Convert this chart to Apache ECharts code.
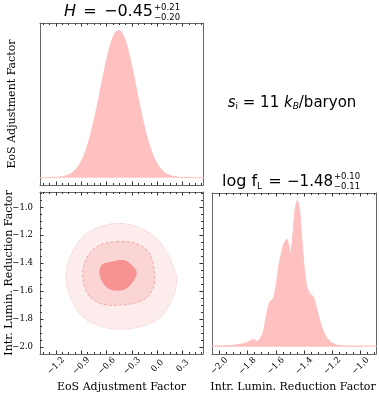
<!DOCTYPE html>
<html><head><meta charset="utf-8">
<script src="https://cdn.jsdelivr.net/npm/echarts@6/dist/echarts.min.js"></script>
<style>html,body{margin:0;padding:0;background:#fff}#c{width:379px;height:397px}</style>
</head><body><div id="c"></div>
<script>
// ---------- data ----------
const hGrid = [-1.40,-1.35,-1.30,-1.25,-1.20,-1.15,-1.10,-1.05,-1.00,-0.95,-0.90,-0.85,-0.80,-0.75,-0.70,-0.65,-0.60,-0.55,-0.50,-0.45,-0.40,-0.35,-0.30,-0.25,-0.20,-0.15,-0.10,-0.05,0.00,0.05,0.10,0.15,0.20,0.25,0.30,0.35,0.40,0.45,0.50,0.55];
const hDensity = [0.000,0.000,0.000,0.001,0.002,0.005,0.010,0.019,0.037,0.066,0.112,0.178,0.270,0.386,0.520,0.664,0.800,0.912,0.982,1.000,0.960,0.872,0.748,0.607,0.465,0.336,0.230,0.149,0.091,0.052,0.028,0.015,0.007,0.003,0.001,0.001,0.000,0.000,0.000,0.000];
const fLGrid = [-2.06,-1.95,-1.90,-1.85,-1.80,-1.77,-1.755,-1.735,-1.715,-1.70,-1.687,-1.675,-1.663,-1.65,-1.64,-1.616,-1.604,-1.592,-1.581,-1.569,-1.557,-1.545,-1.534,-1.522,-1.510,-1.494,-1.479,-1.463,-1.447,-1.432,-1.416,-1.399,-1.381,-1.357,-1.333,-1.310,-1.286,-1.263,-1.239,-1.204,-1.168,-1.12,-1.00,-0.88];
const fLDensity = [0.004,0.006,0.010,0.016,0.030,0.046,0.050,0.036,0.050,0.075,0.105,0.170,0.230,0.285,0.310,0.330,0.385,0.460,0.540,0.600,0.650,0.700,0.720,0.735,0.700,0.630,0.765,0.940,1.000,0.940,0.740,0.540,0.410,0.360,0.340,0.260,0.170,0.105,0.060,0.027,0.011,0.005,0.004,0.004];
// 2D credible contours (H, log fL)
const outerX = [-0.560,-0.363,-0.200,-0.007,0.100,0.190,0.230,0.171,-0.007,-0.442,-0.837,-1.014,-1.082,-1.014,-0.837];
const outerY = [-1.120,-1.120,-1.150,-1.223,-1.310,-1.426,-1.522,-1.665,-1.808,-1.875,-1.808,-1.665,-1.498,-1.330,-1.187];
const middleX = [-0.481,-0.284,-0.106,-0.039,-0.047,-0.166,-0.442,-0.679,-0.829,-0.884,-0.817,-0.679];
const middleY = [-1.247,-1.254,-1.318,-1.450,-1.570,-1.665,-1.701,-1.689,-1.617,-1.473,-1.342,-1.270];
const innerX = [-0.600,-0.403,-0.303,-0.244,-0.303,-0.403,-0.560,-0.640,-0.687,-0.659];
const innerY = [-1.397,-1.378,-1.414,-1.469,-1.545,-1.593,-1.589,-1.545,-1.469,-1.414];
// ticks
const hTicks = [-1.2,-0.9,-0.6,-0.3,0.0,0.3];
const hMinorTicks = [-1.35,-1.275,-1.125,-1.05,-0.975,-0.825,-0.75,-0.675,-0.525,-0.45,-0.375,-0.225,-0.15,-0.075,0.075,0.15,0.225,0.375,0.45,0.525];
const fLTicks = [-2.0,-1.8,-1.6,-1.4,-1.2,-1.0];
const fLMinorTicks = [-1.95,-1.90,-1.85,-1.75,-1.70,-1.65,-1.55,-1.50,-1.45,-1.35,-1.30,-1.25,-1.15,-1.10,-1.05,-0.95,-0.90];
const hRange = [-1.389, 0.540];
const fLRange = [-2.052, -0.890];
const densRange = [-0.05, 1.05];

// ---------- styling ----------
const frameColor = '#666', tickColor = '#333';
const pink = 'rgb(255,192,192)';
const fmt = v => (v < 0 ? '\u2212' : '') + Math.abs(v).toFixed(1);

const xAxes = [], yAxes = [];
function addAxis(list, grid, pos, range, majors, minors, showLabels, labelOpt) {
  const base = {type:'value', gridIndex:grid, position:pos, min:range[0], max:range[1],
    splitLine:{show:false}, axisPointer:{show:false}};
  const idx = list.length;
  list.push(Object.assign({}, base, {
    axisLine:{show:true, onZero:false, lineStyle:{color:frameColor, width:1}},
    axisTick: majors ? {show:true, inside:true, length:3.5, customValues:majors, lineStyle:{color:tickColor, width:1}} : {show:false},
    axisLabel: showLabels ? Object.assign({show:true, customValues:majors, formatter:fmt,
      fontFamily:'DejaVu Serif', fontSize:8.5, color:'#000'}, labelOpt||{}) : {show:false}
  }));
  if (minors) {
    list.push(Object.assign({}, base, {
      axisLine:{show:false, onZero:false},
      axisTick:{show:true, inside:true, length:2, customValues:minors, lineStyle:{color:tickColor, width:1}},
      axisLabel:{show:false}
    }));
  }
  return idx;
}
const rotLabel = {rotate:45, align:'center', verticalAlign:'middle', margin:12};
// grid 0: H histogram
const ax0 = addAxis(xAxes,0,'bottom',hRange,hTicks,hMinorTicks,false);
addAxis(xAxes,0,'top',hRange,hTicks,hMinorTicks,false);
const ay0 = addAxis(yAxes,0,'left',densRange,null,null,false);
addAxis(yAxes,0,'right',densRange,null,null,false);
// grid 1: 2D
const ax1 = addAxis(xAxes,1,'bottom',hRange,hTicks,hMinorTicks,true,rotLabel);
addAxis(xAxes,1,'top',hRange,hTicks,hMinorTicks,false);
const ay1 = addAxis(yAxes,1,'left',fLRange,fLTicks,fLMinorTicks,true,{margin:7});
addAxis(yAxes,1,'right',fLRange,fLTicks,fLMinorTicks,false);
// grid 2: fL histogram
const ax2 = addAxis(xAxes,2,'bottom',fLRange,fLTicks,fLMinorTicks,true,rotLabel);
addAxis(xAxes,2,'top',fLRange,fLTicks,fLMinorTicks,false);
const ay2 = addAxis(yAxes,2,'left',densRange,null,null,false);
addAxis(yAxes,2,'right',densRange,null,null,false);

const contours = [
  {x:outerX, y:outerY, fill:'rgb(253,236,236)', stroke:'rgb(246,190,190)', dash:[1,1.5]},
  {x:middleX, y:middleY, fill:'rgb(251,212,212)', stroke:'rgb(240,170,170)', dash:[3,2]},
  {x:innerX, y:innerY, fill:'rgb(246,146,146)', stroke:'rgb(246,146,146)', dash:null}
];

const txt = (x,y,text,font,extra) => ({type:'text', x:x, y:y, silent:true,
  style:Object.assign({text:text, font:font, fill:'#000', align:'left', verticalAlign:'middle'}, extra||{})});

const option = {
  animation:false,
  grid:[
    {left:40, top:23, width:163, height:162},
    {left:40, top:192, width:163, height:162},
    {left:212, top:193, width:164, height:161}
  ],
  xAxis:xAxes, yAxis:yAxes,
  series:[
    {type:'line', xAxisIndex:ax0, yAxisIndex:ay0, data:hGrid.map((v,i)=>[v,hDensity[i]]),
     showSymbol:false, symbol:'none', smooth:0.3, clip:true,
     lineStyle:{color:pink, width:1}, areaStyle:{color:pink, opacity:1}},
    {type:'custom', xAxisIndex:ax1, yAxisIndex:ay1, coordinateSystem:'cartesian2d', clip:true,
     data:contours.map(c=>[c.x[0], c.y[0]]),
     renderItem:function(params, api){
       const c = contours[params.dataIndex];
       const pts = c.x.map((x,k)=>api.coord([x, c.y[k]]));
       return {type:'polygon', shape:{points:pts, smooth:0.35},
         style:{fill:c.fill, stroke:c.stroke, lineWidth:c.dash?1:0, lineDash:c.dash||null}};
     }},
    {type:'line', xAxisIndex:ax2, yAxisIndex:ay2, data:fLGrid.map((v,i)=>[v,fLDensity[i]]),
     showSymbol:false, symbol:'none', smooth:0.15, clip:true,
     lineStyle:{color:pink, width:1}, areaStyle:{color:pink, opacity:1}}
  ],
  graphic:[
    {type:'text', x:12, y:104, rotation:Math.PI/2, silent:true,
     style:{text:'EoS Adjustment Factor', font:'11px "DejaVu Serif"', fill:'#000', align:'center', verticalAlign:'middle'}},
    {type:'text', x:9, y:273, rotation:Math.PI/2, silent:true,
     style:{text:'Intr. Lumin. Reduction Factor', font:'11px "DejaVu Serif"', fill:'#000', align:'center', verticalAlign:'middle'}},
    txt(121.5, 387, 'EoS Adjustment Factor', '11px "DejaVu Serif"', {align:'center'}),
    txt(293, 387, 'Intr. Lumin. Reduction Factor', '11px "DejaVu Serif"', {align:'center'}),
    // H title
    txt(64, 11.5, 'H', 'italic 16px "DejaVu Sans"'),
    txt(90, 11.5, '=', '16px "DejaVu Sans"', {align:'center'}),
    txt(153, 11.5, '\u22120.45', '16px "DejaVu Sans"', {align:'right'}),
    txt(154, 7.5, '+0.21', '8.5px "DejaVu Sans"'),
    txt(154, 17.5, '\u22120.20', '8.5px "DejaVu Sans"'),
    // log fL title
    txt(222, 182, 'log f', '16px "DejaVu Sans"'),
    txt(257, 187, 'L', '9px "DejaVu Sans"'),
    txt(275, 182, '=', '16px "DejaVu Sans"', {align:'center'}),
    txt(333, 182, '\u22121.48', '15px "DejaVu Sans"', {align:'right'}),
    txt(334, 177, '+0.10', '8.5px "DejaVu Sans"'),
    txt(334, 187, '\u22120.11', '8.5px "DejaVu Sans"'),
    // entropy annotation
    {type:'text', x:292, y:103, silent:true,
     style:{text:'{it|s}{sb|i}{n| = 11 }{it|k}{sbi|B}{n|/baryon}', align:'center', verticalAlign:'middle', fill:'#000',
       rich:{
         it:{font:'italic 15px "DejaVu Sans"', lineHeight:17, verticalAlign:'middle'},
         n:{font:'15px "DejaVu Sans"', lineHeight:17, verticalAlign:'middle'},
         sb:{font:'9px "DejaVu Sans"', lineHeight:17, verticalAlign:'bottom'},
         sbi:{font:'italic 9px "DejaVu Sans"', lineHeight:17, verticalAlign:'bottom'}
       }}}
  ]
};
const chart = echarts.init(document.getElementById('c'), null, {renderer:'canvas'});
chart.setOption(option);
</script>
</body></html>
